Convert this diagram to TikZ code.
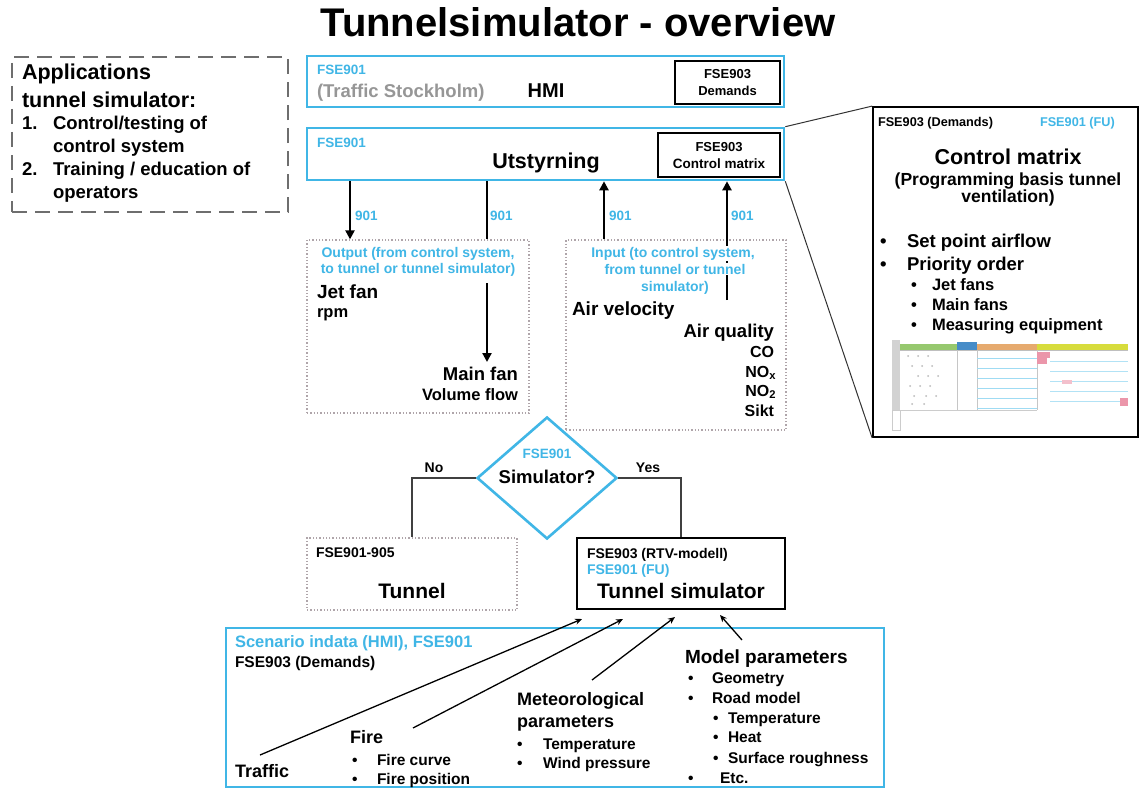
\documentclass[tikz,border=0pt]{standalone}
\usepackage{fontspec}
\setmainfont{Liberation Sans}
\usetikzlibrary{arrows.meta,fit,shapes.geometric,calc}
\definecolor{cy}{RGB}{64,182,230}
\definecolor{gtx}{RGB}{150,150,150}
\definecolor{dotc}{RGB}{175,165,170}
\definecolor{dashc}{RGB}{110,110,110}
\definecolor{hG}{RGB}{150,200,110}
\definecolor{hB}{RGB}{70,140,200}
\definecolor{hO}{RGB}{230,170,110}
\definecolor{hY}{RGB}{215,220,60}
\definecolor{pk}{RGB}{235,150,170}
\newcommand{\fsz}[1]{\fontsize{#1}{#1}\selectfont\bfseries}
\begin{document}
\begin{tikzpicture}[x=1pt,y=-1pt,
  t/.style={inner sep=0pt, outer sep=0pt, font=\fsz{#1}},
  cybox/.style={draw=cy, line width=2.6pt, inner sep=0pt},
  blkbox/.style={draw=black, line width=1.8pt, inner sep=0pt},
  dotbox/.style={draw=dotc, dotted, line width=1.3pt, inner sep=0pt},
  dashbox/.style={draw=dashc, line width=2.4pt, dash pattern=on 15pt off 8pt, inner sep=0pt},
  bigarr/.style={line width=2.2pt, -{Triangle[length=9pt,width=9pt]}},
  smarr/.style={line width=1.3pt, -{Stealth[length=7pt,width=6pt]}},
  flow/.style={line width=1.4pt, draw=black!75},
  callout/.style={line width=1pt, draw=black!80},
  wbg/.style={fill=white, inner sep=1pt}
]
\useasboundingbox (0,0) rectangle (1142,789);
\fill[white] (0,0) rectangle (1142,789);

% title
\node[t=40, anchor=base] (title) at (578,37) {Tunnelsimulator - overview};

% applications box
\node[dashbox, fit={(12,57)(288,212)}] (apps) {};
\node[t=21.5, anchor=base west] (ap1) at (22,80) {Applications};
\node[t=21.5, anchor=base west] (ap2) at (22,107) {tunnel simulator:};
\node[t=18.5, anchor=base west] (ap3n) at (22,129) {1.};
\node[t=18.5, anchor=base west] (ap3) at (53,129) {Control/testing of};
\node[t=18.5, anchor=base west] (ap4) at (53,152) {control system};
\node[t=18.5, anchor=base west] (ap5n) at (22,175) {2.};
\node[t=18.5, anchor=base west] (ap5) at (53,175) {Training / education of};
\node[t=18.5, anchor=base west] (ap6) at (53,198) {operators};

% HMI
\node[cybox, fit={(307,56)(784,107)}] (hmi) {};
\node[t=13.5, text=cy, anchor=base west] (hmi1) at (317,75) {FSE901};
\node[t=18.5, text=gtx, anchor=base west] (hmi2) at (317,98) {(Traffic Stockholm)};
\node[t=20, anchor=base] (hmi3) at (546,98) {HMI};
\node[blkbox, fit={(675,61)(780,104)}] (dem) {};
\node[t=13, anchor=base] (dem1) at (727.5,79) {FSE903};
\node[t=13, anchor=base] (dem2) at (727.5,96) {Demands};

% Utstyrning
\node[cybox, fit={(307,128)(784,180)}] (utst) {};
\node[t=13.5, text=cy, anchor=base west] (ut1) at (317,147) {FSE901};
\node[t=21.5, anchor=base] (ut2) at (546,168) {Utstyrning};
\node[blkbox, fit={(658,133)(780,177)}] (cmx) {};
\node[t=13, anchor=base] (cmx1) at (719,151) {FSE903};
\node[t=13.5, anchor=base] (cmx2) at (719,168) {Control matrix};

% Output box
\node[dotbox, fit={(307,240)(529,413)}] (out) {};
\node[t=14, text=cy, anchor=base] (o1) at (418,257) {Output (from control system,};
\node[t=14, text=cy, anchor=base] (o2) at (418,273) {to tunnel or tunnel simulator)};
\node[t=19, anchor=base west] (o3) at (317,298) {Jet fan};
\node[t=16.5, anchor=base west] (o4) at (317,317) {rpm};
\node[t=18.5, anchor=base east] (o5) at (518,380) {Main fan};
\node[t=16.5, anchor=base east] (o6) at (518,400) {Volume flow};

% Input box
\node[dotbox, fit={(566,240)(786,430)}] (inp) {};

% arrows between Utstyrning and boxes
\coordinate (a1) at (350,0);
\coordinate (a2) at (487,0);
\coordinate (a3) at (604,0);
\coordinate (a4) at (727,300);
\coordinate (m1) at (487,283);
\coordinate (m2) at (487,362);
\draw[bigarr] (utst.south -| a1) -- (out.north -| a1);
\draw[line width=2.2pt] (utst.south -| a2) -- (out.north -| a2);
\draw[bigarr] (m1) -- (m2);
\draw[bigarr] (inp.north -| a3) -- (utst.south -| a3);
\draw[bigarr] (a4) -- (utst.south -| a4);
\node[t=13.5, text=cy, anchor=base west] (n1) at (355,220) {901};
\node[t=13.5, text=cy, anchor=base west] (n2) at (490,220) {901};
\node[t=13.5, text=cy, anchor=base west] (n3) at (609,220) {901};
\node[t=13.5, text=cy, anchor=base west] (n4) at (731,220) {901};

\node[t=14, text=cy, anchor=base, wbg] (i1) at (673,257) {Input (to control system,};
\node[t=14, text=cy, anchor=base, wbg] (i2) at (675,274) {from tunnel or tunnel};
\node[t=14, text=cy, anchor=base] (i3) at (675,291) {simulator)};
\node[t=19, anchor=base west] (i4) at (572,315) {Air velocity};
\node[t=18.5, anchor=base east] (i5) at (774,337) {Air quality};
\node[t=16, anchor=base east] (i6) at (774,357) {CO};
\node[t=16, anchor=base east] (i7) at (776,377) {NO\textsubscript{x}};
\node[t=16, anchor=base east] (i8) at (776,396) {NO\textsubscript{2}};
\node[t=16, anchor=base east] (i9) at (774,416) {Sikt};

% decision
\node[diamond, draw=cy, line width=2.6pt, minimum width=140pt, minimum height=122pt, inner sep=0pt] (dec) at (547,478) {};
\node[t=13.5, text=cy, anchor=base] (d1) at (547,458) {FSE901};
\node[t=18.5, anchor=base] (d2) at (547,483) {Simulator?};

% Tunnel and simulator boxes
\node[dotbox, fit={(307,538)(517,610)}] (tun) {};
\node[t=14, anchor=base west] (tu1) at (316,557) {FSE901-905};
\node[t=21, anchor=base] (tu2) at (412,598) {Tunnel};
\node[blkbox, fit={(577,538)(785,609)}] (tsim) {};
\node[t=14, anchor=base west] (ts1) at (587,558) {FSE903 (RTV-modell)};
\node[t=14, text=cy, anchor=base west] (ts2) at (587,574) {FSE901 (FU)};
\node[t=21, anchor=base] (ts3) at (681,598) {Tunnel simulator};

\draw[flow] (dec.west) -| (tun.north);
\draw[flow] (dec.east) -| (tsim.north);
\node[t=14, anchor=base] (no) at (434,472) {No};
\node[t=14, anchor=base] (yes) at (648,472) {Yes};

% scenario box
\node[cybox, fit={(226,628)(884,787)}] (scen) {};
\node[t=16.5, text=cy, anchor=base west] (s1) at (235,647) {Scenario indata (HMI), FSE901};
\node[t=15.5, anchor=base west] (s2) at (235,667) {FSE903 (Demands)};
\node[t=18, anchor=base west] (traffic) at (235,777) {Traffic};
\node[t=18, anchor=base west] (fire) at (350,743) {Fire};
\node[t=15.5, anchor=base west] at (352,765) {•};
\node[t=15.5, anchor=base west] (f1) at (377,765) {Fire curve};
\node[t=15.5, anchor=base west] at (352,784) {•};
\node[t=15.5, anchor=base west] (f2) at (377,784) {Fire position};
\node[t=18, anchor=base west] (met) at (517,705) {Meteorological};
\node[t=18, anchor=base west] (met2) at (517,727) {parameters};
\node[t=15.5, anchor=base west] at (517,749) {•};
\node[t=15.5, anchor=base west] (mt1) at (543,749) {Temperature};
\node[t=15.5, anchor=base west] at (517,768) {•};
\node[t=15.5, anchor=base west] (mt2) at (543,768) {Wind pressure};
\node[t=19, anchor=base west] (mod) at (685,663) {Model parameters};
\node[t=15.5, anchor=base west] at (688,683) {•};
\node[t=15.5, anchor=base west] (md1) at (712,683) {Geometry};
\node[t=15.5, anchor=base west] at (688,703) {•};
\node[t=15.5, anchor=base west] (md2) at (712,703) {Road model};
\node[t=15.5, anchor=base west] at (713,723) {•};
\node[t=15.5, anchor=base west] (md3) at (728,723) {Temperature};
\node[t=15.5, anchor=base west] at (713,742) {•};
\node[t=15.5, anchor=base west] (md4) at (728,742) {Heat};
\node[t=15.5, anchor=base west] at (713,763) {•};
\node[t=15.5, anchor=base west] (md5) at (728,763) {Surface roughness};
\node[t=15.5, anchor=base west] at (688,783) {•};
\node[t=15.5, anchor=base west] (md6) at (720,783) {Etc.};

\coordinate (b1s) at (260,755);
\coordinate (b2s) at (413,728);
\coordinate (b3s) at (592,680);
\coordinate (b4s) at (742,640);
\coordinate (b1e) at (582,619);
\coordinate (b2e) at (623,619);
\coordinate (b3e) at (675,617);
\coordinate (b4e) at (720,615);
\draw[smarr] (b1s) -- (b1e);
\draw[smarr] (b2s) -- (b2e);
\draw[smarr] (b3s) -- (b3e);
\draw[smarr] (b4s) -- (b4e);

% control matrix callout
\node[blkbox, fit={(873,107)(1138,437)}] (cm) {};
\draw[callout] (utst.north east) -- (cm.north west);
\draw[callout] (utst.south east) -- (cm.south west);
\node[t=12.7, anchor=base west] (c1) at (878,127) {FSE903 (Demands)};
\node[t=12.7, text=cy, anchor=base west] (c2) at (1040,127) {FSE901 (FU)};
\node[t=21.5, anchor=base] (c3) at (1008,164) {Control matrix};
\node[t=17.5, anchor=base] (c4) at (1008,185) {(Programming basis tunnel};
\node[t=17.5, anchor=base] (c5) at (1008,202) {ventilation)};
\node[t=18.5, anchor=base west] at (880,247) {•};
\node[t=18.5, anchor=base west] (c6) at (907,247) {Set point airflow};
\node[t=18.5, anchor=base west] at (880,270) {•};
\node[t=18.5, anchor=base west] (c7) at (907,270) {Priority order};
\node[t=16.5, anchor=base west] at (911,290) {•};
\node[t=16.5, anchor=base west] (c8) at (932,290) {Jet fans};
\node[t=16.5, anchor=base west] at (911,310) {•};
\node[t=16.5, anchor=base west] (c9) at (932,310) {Main fans};
\node[t=16.5, anchor=base west] at (911,330) {•};
\node[t=16.5, anchor=base west] (c10) at (932,330) {Measuring equipment};

% spreadsheet thumbnail
\fill[gray!35] (892,340) rectangle (900,410);
\draw[gray!40, line width=0.6pt] (892,410) rectangle (900,430);
\fill[hG] (900,344) rectangle (957,350);
\fill[hB] (957,342) rectangle (977,350);
\fill[hO] (977,344) rectangle (1037,350);
\fill[hY] (1037,344) rectangle (1128,350);
\draw[gray!50, line width=0.5pt] (900,350) -- (1128,350);
\foreach \xx in {957,977,1037} \draw[gray!45, line width=0.5pt] (\xx,350) -- (\xx,410);
\foreach \yy in {358,368,378,388,398,408} \draw[cy!50, line width=0.6pt] (977,\yy) -- (1037,\yy);
\foreach \yy in {361,371,381,391,401} \draw[cy!40, line width=0.6pt] (1050,\yy) -- (1128,\yy);
\draw[gray!40, line width=0.5pt] (900,410) -- (1037,410);
\fill[pk] (1037,352) rectangle (1050,358);
\fill[pk] (1037,358) rectangle (1047,364);
\fill[pk] (1120,398) rectangle (1128,406);
\fill[pk!60] (1062,380) rectangle (1072,384);
\foreach \xx/\yy in {908/356,918/356,928/356,912/366,922/366,932/366,918/376,928/376,938/376,910/386,920/386,930/386,914/396,926/396,936/396,912/404,924/404}
  \fill[gray!55] (\xx,\yy) circle (1pt);
\end{tikzpicture}
\end{document}
